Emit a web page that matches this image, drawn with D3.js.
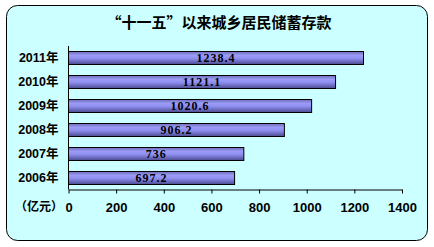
<!DOCTYPE html>
<html>
<head>
<meta charset="utf-8">
<script src="https://cdn.jsdelivr.net/npm/d3@7"></script>
<style>
  body { margin: 0; background: #fff; }
  svg { display: block; }
</style>
</head>
<body>
<svg id="viz"></svg>
<script>
var width = 434;
var height = 247;

var years = ["2006年", "2007年", "2008年", "2009年", "2010年", "2011年"];
var deposits = [697.2, 736, 906.2, 1020.6, 1121.1, 1238.4];
var labels = ["697.2", "736", "906.2", "1020.6", "1121.1", "1238.4"];
var xTicks = [0, 200, 400, 600, 800, 1000, 1200, 1400];

var svg = d3.select("#viz")
    .attr("width", width)
    .attr("height", height);

// gradient for bars
var grad = svg.append("defs").append("linearGradient")
    .attr("id", "barGrad")
    .attr("x1", 0).attr("y1", 0).attr("x2", 0).attr("y2", 1);
grad.append("stop").attr("offset", "0%").attr("stop-color", "#6c6cb8");
grad.append("stop").attr("offset", "30%").attr("stop-color", "#9c9cf8");
grad.append("stop").attr("offset", "55%").attr("stop-color", "#8c8cec");
grad.append("stop").attr("offset", "100%").attr("stop-color", "#4a4a90");

// panel
svg.append("rect")
    .attr("x", 6.5).attr("y", 5.5)
    .attr("width", 421).attr("height", 235)
    .attr("rx", 11).attr("ry", 11)
    .attr("fill", "#ccffff")
    .attr("stroke", "#000")
    .attr("stroke-width", 1);

svg.append("text")
    .attr("x", 219).attr("y", 28)
    .attr("text-anchor", "middle")
    .style("font-family", "'Noto Sans CJK SC', sans-serif")
    .style("font-weight", "bold")
    .style("font-size", "15px")
    .text("“十一五”以来城乡居民储蓄存款");

var x = d3.scaleLinear()
    .domain([0, 1400])
    .range([68.5, 402]);

var y = d3.scaleBand()
    .domain(years.slice().reverse())
    .range([46, 189.5])
    .paddingInner(0.44)
    .paddingOuter(0.22);

var chart = svg.append("g");

chart.selectAll("rect.bar")
    .data(years)
    .enter().append("rect")
    .attr("class", "bar")
    .attr("x", x(0))
    .attr("y", function (d) { return Math.round(y(d)) + 0.5; })
    .attr("width", function (d, i) { return x(deposits[i]) - x(0); })
    .attr("height", Math.round(y.bandwidth()))
    .attr("fill", "url(#barGrad)")
    .attr("stroke", "#000")
    .attr("stroke-width", 1);

chart.selectAll("text.val")
    .data(years)
    .enter().append("text")
    .attr("class", "val")
    .attr("x", function (d, i) { return (x(0) + x(deposits[i])) / 2; })
    .attr("y", function (d) { return Math.round(y(d)) + y.bandwidth() / 2 + 4.5; })
    .attr("text-anchor", "middle")
    .style("font-family", "'Liberation Serif', serif")
    .style("font-weight", "bold")
    .style("font-size", "12px")
    .style("letter-spacing", "1px")
    .text(function (d, i) { return labels[i]; });

// y axis
var yAxis = chart.append("g")
    .attr("transform", "translate(68.5,0)")
    .call(d3.axisLeft(y).tickSize(0).tickPadding(10));
yAxis.select(".domain").attr("d", "M0,46V189.5").attr("stroke", "#000");
yAxis.selectAll("text")
    .style("font-family", "'Liberation Sans', 'Noto Sans CJK SC', sans-serif")
    .style("font-weight", "bold")
    .style("font-size", "12.5px")
    .attr("fill", "#000");

// x axis
var xAxis = chart.append("g")
    .attr("transform", "translate(0,189.5)")
    .call(d3.axisBottom(x).tickValues(xTicks).tickFormat(d3.format("d"))
        .tickSize(4).tickSizeOuter(0).tickPadding(9));
xAxis.select(".domain").attr("stroke", "#000");
xAxis.selectAll("line").attr("stroke", "#000");
xAxis.selectAll("text")
    .style("font-family", "'Liberation Sans', sans-serif")
    .style("font-weight", "bold")
    .style("font-size", "13px")
    .attr("fill", "#000");

svg.append("text")
    .attr("x", 39).attr("y", 211)
    .attr("text-anchor", "middle")
    .style("font-family", "'Noto Sans CJK SC', sans-serif")
    .style("font-weight", "bold")
    .style("font-size", "12px")
    .text("（亿元）");
</script>
</body>
</html>
